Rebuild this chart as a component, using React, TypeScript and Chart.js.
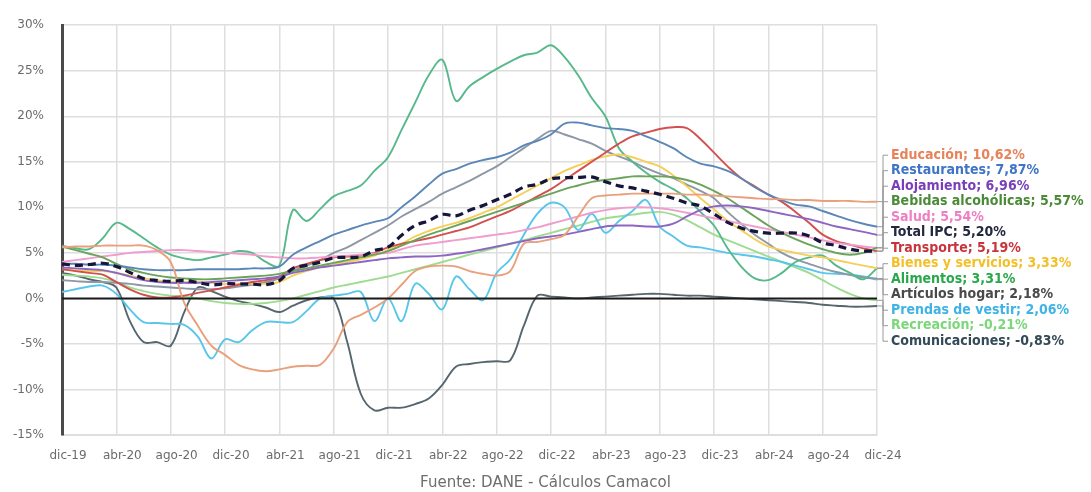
import React, { useEffect, useRef } from 'react';
import { Chart, registerables } from 'chart.js';

Chart.register(...registerables);

const months = [
  'dic-19',
  'ene-20', 'feb-20', 'mar-20', 'abr-20', 'may-20', 'jun-20', 'jul-20', 'ago-20', 'sep-20', 'oct-20', 'nov-20', 'dic-20',
  'ene-21', 'feb-21', 'mar-21', 'abr-21', 'may-21', 'jun-21', 'jul-21', 'ago-21', 'sep-21', 'oct-21', 'nov-21', 'dic-21',
  'ene-22', 'feb-22', 'mar-22', 'abr-22', 'may-22', 'jun-22', 'jul-22', 'ago-22', 'sep-22', 'oct-22', 'nov-22', 'dic-22',
  'ene-23', 'feb-23', 'mar-23', 'abr-23', 'may-23', 'jun-23', 'jul-23', 'ago-23', 'sep-23', 'oct-23', 'nov-23', 'dic-23',
  'ene-24', 'feb-24', 'mar-24', 'abr-24', 'may-24', 'jun-24', 'jul-24', 'ago-24', 'sep-24', 'oct-24', 'nov-24', 'dic-24',
];

const yTicks = [-15, -10, -5, 0, 5, 10, 15, 20, 25, 30];

const totalIPC = [3.80,
  3.62, 3.72, 3.86, 3.51, 2.85, 2.19, 1.97, 1.88, 1.97, 1.75, 1.49, 1.61,
  1.60, 1.56, 1.51, 1.95, 3.30, 3.63, 3.97, 4.44, 4.51, 4.58, 5.26, 5.62,
  6.94, 8.01, 8.53, 9.23, 9.07, 9.67, 10.21, 10.84, 11.44, 12.22, 12.53, 13.12,
  13.25, 13.28, 13.34, 12.82, 12.36, 12.13, 11.78, 11.43, 10.99, 10.48, 10.15, 9.28,
  8.35, 7.74, 7.36, 7.16, 7.16, 7.18, 6.86, 6.12, 5.81, 5.41, 5.20, 5.20];

const educacion = [5.6,
  5.7, 5.7, 5.8, 5.8, 5.8, 5.8, 5.3, 4.0, -0.5, -3.0, -5.2, -6.2,
  -7.3, -7.8, -8.0, -7.8, -7.5, -7.4, -7.3, -5.5, -2.6, -1.8, -1.0, 0.0,
  1.5, 3.0, 3.5, 3.6, 3.5, 3.0, 2.7, 2.5, 3.0, 6.0, 6.2, 6.5,
  7.0, 9.0, 11.0, 11.3, 11.4, 11.5, 11.5, 11.5, 11.5, 11.4, 11.4, 11.3,
  11.2, 11.1, 11.0, 10.9, 10.9, 10.8, 10.8, 10.7, 10.7, 10.7, 10.6, 10.62];

const restaurantes = [3.8,
  3.8, 3.7, 3.7, 3.6, 3.4, 3.2, 3.1, 3.1, 3.1, 3.2, 3.2, 3.2,
  3.2, 3.3, 3.3, 3.5, 4.8, 5.6, 6.3, 7.0, 7.5, 8.0, 8.4, 8.8,
  10.0, 11.2, 12.5, 13.7, 14.2, 14.8, 15.2, 15.5, 16.0, 16.8, 17.3, 18.0,
  19.2, 19.3, 19.0, 18.7, 18.6, 18.4, 17.8, 17.2, 16.5, 15.5, 14.8, 14.5,
  14.0, 13.2, 12.2, 11.4, 10.8, 10.3, 10.1, 9.6, 9.1, 8.6, 8.2, 7.87];

const alojamiento = [3.4,
  3.3, 3.2, 3.1, 2.8, 2.4, 2.0, 1.8, 1.7, 1.7, 1.7, 1.8, 1.9,
  2.0, 2.1, 2.2, 2.4, 2.8, 3.1, 3.4, 3.6, 3.8, 4.0, 4.2, 4.4,
  4.5, 4.6, 4.6, 4.7, 4.9, 5.1, 5.4, 5.7, 6.0, 6.3, 6.6, 6.8,
  7.0, 7.3, 7.6, 7.9, 8.0, 8.0, 7.9, 7.9, 8.2, 9.0, 9.7, 10.1,
  10.2, 10.1, 9.9, 9.6, 9.3, 9.0, 8.7, 8.3, 7.9, 7.6, 7.3, 6.96];

const bebidas = [5.7,
  5.3, 4.9, 4.5, 3.8, 3.2, 2.8, 2.5, 2.3, 2.2, 2.1, 2.1, 2.2,
  2.3, 2.4, 2.5, 2.7, 3.0, 3.3, 3.6, 3.9, 4.2, 4.5, 4.8, 5.2,
  5.8, 6.4, 7.0, 7.5, 8.0, 8.5, 9.0, 9.5, 10.0, 10.5, 11.0, 11.5,
  12.0, 12.4, 12.8, 13.0, 13.2, 13.4, 13.4, 13.4, 13.3, 13.0, 12.5, 11.8,
  11.0, 10.0, 9.0, 8.0, 7.2, 6.5, 5.9, 5.4, 5.0, 4.8, 5.0, 5.57];

const salud = [4.0,
  4.2, 4.4, 4.6, 4.8, 5.0, 5.1, 5.2, 5.3, 5.3, 5.2, 5.1, 5.0,
  4.9, 4.8, 4.6, 4.5, 4.4, 4.4, 4.5, 4.6, 4.7, 4.8, 4.9, 5.0,
  5.4, 5.8, 6.0, 6.2, 6.4, 6.6, 6.8, 7.0, 7.2, 7.5, 7.8, 8.2,
  8.6, 9.0, 9.4, 9.7, 9.9, 10.0, 10.0, 9.9, 9.7, 9.4, 9.1, 8.8,
  8.5, 8.2, 7.9, 7.6, 7.3, 7.0, 6.7, 6.4, 6.1, 5.9, 5.7, 5.54];

const transporte = [3.2,
  3.0, 2.8, 2.6, 1.8, 1.0, 0.4, 0.1, 0.1, 0.3, 0.6, 0.9, 1.2,
  1.5, 1.8, 2.0, 2.4, 3.3, 3.8, 4.2, 4.5, 4.6, 4.7, 5.0, 5.6,
  6.0, 6.3, 6.6, 7.0, 7.4, 7.8, 8.4, 9.0, 9.6, 10.4, 11.2, 12.0,
  13.0, 14.0, 15.0, 16.0, 17.0, 17.8, 18.2, 18.6, 18.8, 18.7, 17.5, 16.0,
  14.5, 13.2, 12.3, 11.4, 10.6, 9.5, 8.3, 7.0, 6.3, 5.9, 5.5, 5.19];

const bienesServicios = [3.2,
  3.1, 3.0, 3.0, 2.8, 2.5, 2.2, 2.0, 1.8, 1.8, 1.8, 1.7, 1.6,
  1.6, 1.6, 1.6, 1.8, 2.5, 3.0, 3.4, 3.8, 4.0, 4.3, 4.7, 5.3,
  6.0, 6.8, 7.4, 7.9, 8.3, 8.8, 9.4, 10.0, 10.8, 11.6, 12.4, 13.2,
  14.0, 14.6, 15.2, 15.6, 15.8, 15.5, 15.0, 14.5, 13.5, 12.3, 11.0, 9.8,
  8.5, 7.5, 6.5, 5.7, 5.3, 5.0, 4.7, 4.5, 4.2, 3.9, 3.6, 3.33];

const alimentos = [5.8,
  5.5, 5.4, 6.6, 8.3, 7.6, 6.6, 5.6, 4.8, 4.4, 4.2, 4.5, 4.8,
  5.2, 5.0, 4.0, 3.6, 9.7, 8.5, 9.8, 11.2, 11.8, 12.4, 14.0, 15.5,
  18.5, 21.5, 24.5, 26.2, 21.7, 23.3, 24.3, 25.2, 26.0, 26.7, 27.0, 27.8,
  26.5, 24.5, 22.0, 20.0, 16.5, 15.0, 13.8, 12.8, 12.0, 11.0, 9.5, 8.0,
  5.5, 3.5, 2.2, 2.0, 2.8, 4.0, 4.5, 4.7, 3.6, 2.8, 2.1, 3.31];

const articulosHogar = [2.0,
  1.9, 1.8, 1.8, 1.7, 1.6, 1.4, 1.3, 1.2, 1.1, 1.0, 1.0, 1.1,
  1.3, 1.5, 1.8, 2.2, 3.0, 3.6, 4.2, 5.0, 5.6, 6.4, 7.2, 8.0,
  9.0, 9.8, 10.6, 11.5, 12.2, 12.9, 13.7, 14.5, 15.5, 16.5, 17.5, 18.4,
  18.0, 17.5, 17.0, 16.2, 15.6, 15.0, 14.3, 13.7, 13.2, 12.5, 11.8, 11.0,
  9.5, 8.2, 7.0, 6.0, 5.0, 4.3, 3.8, 3.3, 2.9, 2.6, 2.3, 2.18];

const prendasVestir = [0.7,
  1.0, 1.3, 1.4, 0.5, -1.2, -2.6, -2.7, -2.8, -2.9, -4.2, -6.6, -4.5,
  -4.8, -3.5, -2.6, -2.6, -2.6, -1.4, 0.0, 0.3, 0.5, 0.7, -2.5, 0.0,
  -2.5, 1.6, 0.5, -1.2, 2.4, 1.0, -0.2, 2.8, 4.3, 7.0, 9.3, 10.5,
  10.0, 7.5, 9.3, 7.2, 8.5, 9.6, 10.8, 7.9, 6.8, 5.8, 5.6, 5.3,
  5.0, 4.8, 4.6, 4.3, 4.0, 3.6, 3.2, 2.8, 2.7, 2.6, 2.4, 2.06];

const recreacion = [2.6,
  2.5, 2.4, 2.2, 1.8, 1.2, 0.8, 0.5, 0.3, 0.2, 0.0, -0.3, -0.5,
  -0.6, -0.6, -0.5, -0.3, 0.0, 0.4, 0.8, 1.2, 1.5, 1.8, 2.1, 2.4,
  2.8, 3.2, 3.6, 4.0, 4.4, 4.8, 5.2, 5.6, 6.0, 6.4, 6.8, 7.2,
  7.6, 8.0, 8.4, 8.8, 9.0, 9.2, 9.4, 9.5, 9.2, 8.6, 7.8, 7.0,
  6.4, 5.8, 5.2, 4.6, 4.0, 3.4, 2.8, 2.0, 1.2, 0.5, 0.0, -0.21];

const comunicaciones = [2.8,
  2.5, 2.1, 1.8, 1.2, -2.5, -4.8, -4.8, -5.2, -1.5, 1.2, 0.8, 0.2,
  -0.3, -0.6, -1.0, -1.5, -0.8, -0.2, 0.1, 0.0, -4.8, -10.5, -12.3, -12.0,
  -12.0, -11.6, -11.0, -9.5, -7.5, -7.2, -7.0, -6.9, -6.8, -3.0, 0.3, 0.2,
  0.1, 0.0, 0.1, 0.2, 0.3, 0.4, 0.5, 0.5, 0.4, 0.3, 0.3, 0.2,
  0.1, 0.0, -0.1, -0.2, -0.3, -0.4, -0.5, -0.7, -0.8, -0.9, -0.9, -0.83];

const seriesNames = [
  'Educación', 'Restaurantes', 'Alojamiento', 'Bebidas alcohólicas', 'Salud', 'Total IPC',
  'Transporte', 'Bienes y servicios', 'Alimentos', 'Artículos hogar', 'Prendas de vestir',
  'Recreación', 'Comunicaciones',
];
const seriesValues = [
  educacion, restaurantes, alojamiento, bebidas, salud, totalIPC,
  transporte, bienesServicios, alimentos, articulosHogar, prendasVestir,
  recreacion, comunicaciones,
];
const lineColors = [
  '#eaa07c', '#5b87b8', '#8c66c2', '#6aa35a', '#ef9dcd', '#16163a',
  '#d2504f', '#f4cf5a', '#57b98b', '#8d97a6', '#58c6ea',
  '#9edc90', '#56666e',
];
const textColors = [
  '#e8825a', '#3f74c6', '#7a3fb8', '#4b8b37', '#ee7fc4', '#23283f',
  '#c8343c', '#f3c02a', '#29a84a', '#4a4a4a', '#3db3e6',
  '#7cd67a', '#334a57',
];

const FONT_C = "'DejaVu Sans Condensed', 'Liberation Sans Narrow', sans-serif";
const FONT = "'DejaVu Sans', 'Liberation Sans', sans-serif";

const fmt = (v: number) => v.toFixed(2).replace('.', ',') + '%';

const overlayPlugin = {
  id: 'overlay',
  afterDraw(chart: any) {
    const { ctx, chartArea, scales } = chart;
    const y = scales.y;
    ctx.save();
    const y0 = y.getPixelForValue(0);
    ctx.strokeStyle = '#1a1a1a';
    ctx.lineWidth = 2;
    ctx.beginPath();
    ctx.moveTo(chartArea.left, y0);
    ctx.lineTo(chartArea.right, y0);
    ctx.stroke();

    const spacing = 15.5;
    const top = chartArea.top + 130;
    ctx.font = `bold 14px ${FONT_C}`;
    ctx.textBaseline = 'middle';
    ctx.textAlign = 'left';
    seriesNames.forEach((name, k) => {
      const vals = seriesValues[k];
      const last = vals[vals.length - 1];
      const yEnd = y.getPixelForValue(last);
      const yLab = top + k * spacing;
      const x0 = chartArea.right;
      ctx.strokeStyle = '#9a9a9a';
      ctx.lineWidth = 1;
      ctx.beginPath();
      ctx.moveTo(x0, yEnd);
      ctx.lineTo(x0 + 6, yEnd);
      ctx.lineTo(x0 + 6, yLab);
      ctx.lineTo(x0 + 11, yLab);
      ctx.stroke();
      ctx.fillStyle = textColors[k];
      ctx.fillText(`${name}; ${fmt(last)}`, x0 + 14, yLab);
    });

    ctx.font = `15px ${FONT}`;
    ctx.fillStyle = '#6e6e6e';
    ctx.textAlign = 'center';
    ctx.fillText('Fuente: DANE - Cálculos Camacol', chart.width / 2, 483);
    ctx.restore();
  },
};

export default function App() {
  const ref = useRef<HTMLCanvasElement>(null);
  useEffect(() => {
    if (!ref.current) return;
    const datasets = seriesNames.map((name, k) => ({
      label: name,
      data: seriesValues[k],
      borderColor: lineColors[k],
      backgroundColor: lineColors[k],
      borderWidth: name === 'Total IPC' ? 3.2 : 1.9,
      borderDash: name === 'Total IPC' ? [8, 5] : [],
      pointRadius: 0,
      tension: 0.35,
      fill: false,
      order: name === 'Total IPC' ? -1 : 1,
    }));
    const chart = new Chart(ref.current, {
      type: 'line',
      data: { labels: months, datasets },
      options: {
        responsive: false,
        animation: false,
        devicePixelRatio: 1,
        layout: { padding: { top: 21, right: 214, left: 0, bottom: 0 } },
        plugins: { legend: { display: false }, tooltip: { enabled: false } },
        scales: {
          x: {
            type: 'category',
            afterFit: (s: any) => { s.height = 57; },
            grid: { color: '#dedede', drawTicks: false, lineWidth: 1.5 },
            border: { color: '#dedede' },
            ticks: {
              autoSkip: false,
              maxRotation: 0,
              padding: 14,
              labelOffset: 6,
              color: '#6b6b6b',
              font: { family: FONT, size: 12 },
              callback: (_v: any, i: number) => (/^(dic|abr|ago)/.test(months[i]) ? months[i] : null),
            },
          },
          y: {
            min: yTicks[0],
            max: yTicks[yTicks.length - 1],
            afterFit: (s: any) => { s.width = 62; },
            afterBuildTicks: (s: any) => { s.ticks = yTicks.map((v) => ({ value: v })); },
            grid: { color: '#dedede', drawTicks: false, lineWidth: 1.5 },
            border: { color: '#4a4a4a', width: 3 },
            ticks: {
              padding: 18,
              color: '#6b6b6b',
              font: { family: FONT, size: 12 },
              callback: (v: any) => `${v}%`,
            },
          },
        },
      },
      plugins: [overlayPlugin],
    } as any);
    return () => chart.destroy();
  }, []);
  return (
    <div style={{ position: 'absolute', left: 0, top: 0, width: 1091, height: 492, background: '#fff' }}>
      <canvas ref={ref} width={1091} height={492} style={{ display: 'block' }} />
    </div>
  );
}
